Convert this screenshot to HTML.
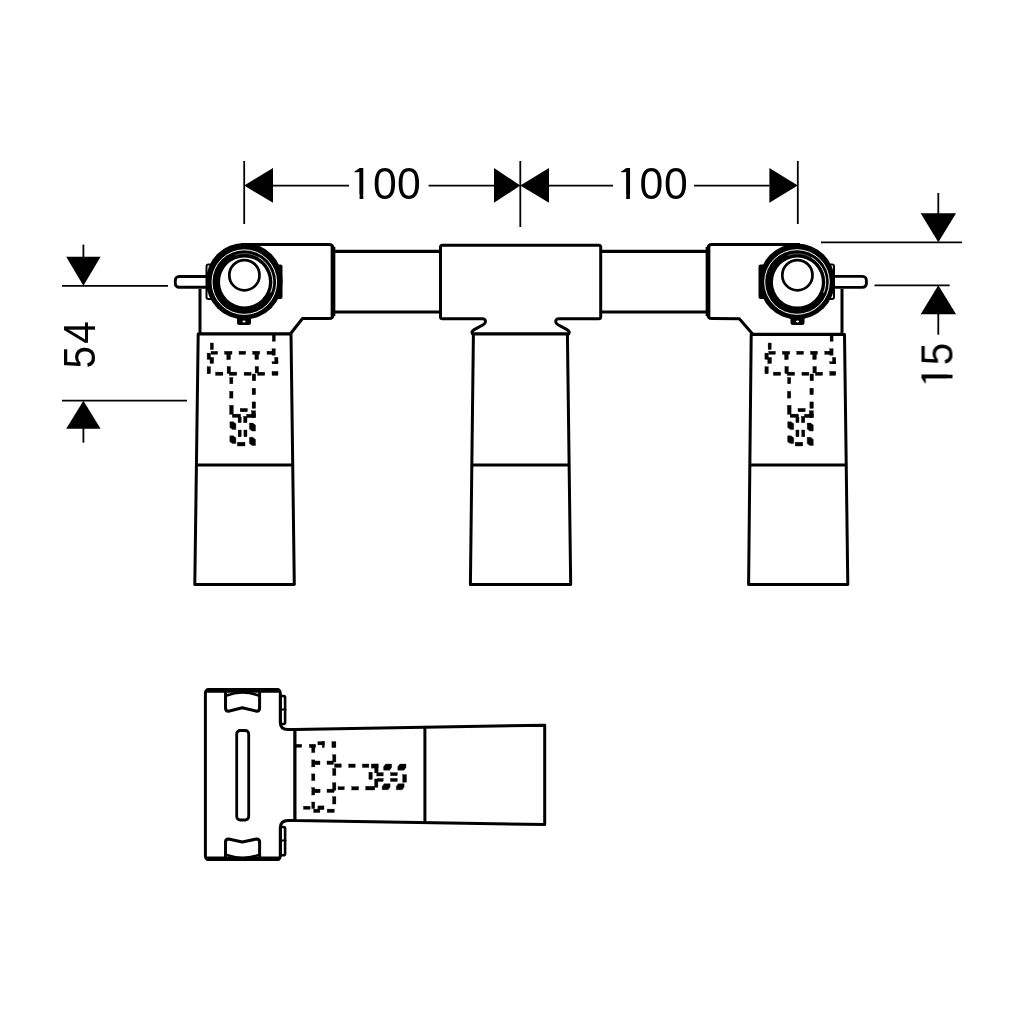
<!DOCTYPE html>
<html><head><meta charset="utf-8">
<style>
html,body{margin:0;padding:0;background:#fff;}
svg{display:block;}
text{font-family:"Liberation Sans",sans-serif;}
</style></head>
<body>
<svg width="1024" height="1024" viewBox="0 0 1024 1024">
<rect width="1024" height="1024" fill="#fff"/>
<defs>
<g id="pat">
<rect x="210.3" y="343.0" width="3.1" height="6.6"/>
<rect x="211.0" y="351.3" width="6.6" height="3.0"/>
<rect x="207.1" y="353.1" width="3.4" height="6.3"/>
<rect x="210.0" y="357.4" width="3.7" height="6.1"/>
<rect x="224.6" y="351.3" width="7.4" height="3.0"/>
<rect x="226.8" y="354.3" width="3.7" height="5.3"/>
<rect x="239.0" y="351.2" width="6.7" height="3.2"/>
<rect x="207.1" y="366.7" width="3.4" height="7.1"/>
<rect x="215.6" y="372.1" width="7.3" height="3.3"/>
<rect x="227.1" y="366.5" width="3.4" height="7.1"/>
<rect x="229.3" y="372.1" width="7.5" height="3.3"/>
<rect x="229.8" y="377.5" width="3.1" height="6.3"/>
<rect x="272.3" y="334.8" width="3.0" height="6.5"/>
<rect x="252.7" y="351.2" width="7.0" height="3.2"/>
<rect x="254.9" y="354.4" width="3.7" height="5.1"/>
<rect x="267.0" y="351.2" width="7.7" height="3.2"/>
<rect x="272.0" y="348.8" width="3.3" height="6.4"/>
<rect x="274.7" y="357.4" width="3.3" height="6.4"/>
<rect x="272.0" y="361.7" width="6.0" height="2.1"/>
<rect x="244.1" y="372.2" width="7.0" height="3.2"/>
<rect x="255.1" y="366.5" width="3.5" height="6.5"/>
<rect x="257.6" y="372.2" width="7.2" height="3.2"/>
<rect x="252.2" y="374.0" width="3.5" height="6.8"/>
<rect x="272.0" y="371.4" width="6.0" height="4.0"/>
<rect x="229.6" y="391.3" width="3.4" height="6.8"/>
<rect x="252.1" y="388.2" width="3.5" height="6.5"/>
<rect x="229.6" y="405.3" width="3.7" height="9"/>
<rect x="232.3" y="414.1" width="8.3" height="3.3"/>
<rect x="238.1" y="417.0" width="3.1" height="5.7"/>
<rect x="240.2" y="408.4" width="7.2" height="3.4"/>
<rect x="252.1" y="401.9" width="3.5" height="6.5"/>
<rect x="251.5" y="410.8" width="4.1" height="6.8"/>
<rect x="246.7" y="414.2" width="8.9" height="3.4"/>
<rect x="243.6" y="416.3" width="3.4" height="6.4"/>
<polygon points="229.9,421.7 233.2,421.7 235.9,423.7 235.9,429.6 232.6,429.6 229.9,427.6"/>
<polygon points="229.8,435.8 233.2,435.8 235.9,437.8 235.9,443.6 232.5,443.6 229.8,441.7"/>
<polygon points="249.4,423.1 252.8,423.1 255.5,425.1 255.5,431.1 252.1,431.1 249.4,429.1"/>
<polygon points="249.4,437.3 252.8,437.3 255.5,439.4 255.5,445.5 252.1,445.5 249.4,443.4"/>
<rect x="238.1" y="430.0" width="3.1" height="6.8"/>
<rect x="243.9" y="430.0" width="3.1" height="6.8"/>
<rect x="237.4" y="442.2" width="7.6" height="3.8"/>
</g>
</defs>
<!-- DIMENSIONS -->
<g stroke="#000" stroke-width="1.8" fill="none">
  <line x1="244.2" y1="161" x2="244.2" y2="224"/>
  <line x1="520.3" y1="161" x2="520.3" y2="227"/>
  <line x1="797.8" y1="161" x2="797.8" y2="224"/>
  <line x1="273" y1="185.6" x2="349" y2="185.6"/>
  <line x1="428.6" y1="185.6" x2="494" y2="185.6"/>
  <line x1="549" y1="185.6" x2="613" y2="185.6"/>
  <line x1="694" y1="185.6" x2="769.4" y2="185.6"/>
  <!-- left dim -->
  <line x1="83.4" y1="244.6" x2="83.4" y2="258"/>
  <line x1="62" y1="285.8" x2="168" y2="285.8"/>
  <line x1="62" y1="400.7" x2="187" y2="400.7"/>
  <line x1="83.4" y1="428" x2="83.4" y2="442.6"/>
  <!-- right dim -->
  <line x1="938.3" y1="193" x2="938.3" y2="214"/>
  <line x1="821" y1="242.3" x2="962" y2="242.3"/>
  <line x1="874.5" y1="285.3" x2="949.7" y2="285.3"/>
  <line x1="938.3" y1="313" x2="938.3" y2="334.7"/>
</g>
<g fill="#000">
  <polygon points="244.2,185.6 273,167.9 273,202.8"/>
  <polygon points="520.3,185.6 494,167.9 494,202.8"/>
  <polygon points="520.3,185.6 549,167.9 549,202.8"/>
  <polygon points="797.8,185.6 769.4,167.9 769.4,202.8"/>
  <polygon points="83.4,285.8 66.2,256.8 100.6,256.8"/>
  <polygon points="83.4,400.7 66.2,428.7 100.6,428.7"/>
  <polygon points="938.3,242.3 920.7,213.3 956.1,213.3"/>
  <polygon points="938.3,285.3 920.7,314.3 956.1,314.3"/>
</g>
<g fill="#000" font-size="45" opacity="0.999">
  <text x="348.1" y="199">1</text>
  <text transform="translate(384.3,199) scale(0.95,1)" x="-12" y="0">0</text>
  <text transform="translate(408.5,199) scale(0.95,1)" x="-12" y="0">0</text>
  <rect x="350.5" y="194.4" width="9.1" height="5.2" fill="#fff"/>
  <rect x="363.3" y="194.4" width="8.9" height="5.2" fill="#fff"/>
  <polygon points="345,163 354.3,163 354.3,172.2 358.7,172.2 358.7,183.4 345,183.4" fill="#fff"/>
  <text x="614.7" y="199">1</text>
  <text transform="translate(650.9,199) scale(0.95,1)" x="-12" y="0">0</text>
  <text transform="translate(675.3,199) scale(0.95,1)" x="-12" y="0">0</text>
  <rect x="617.1" y="194.4" width="9.1" height="5.2" fill="#fff"/>
  <rect x="629.9" y="194.4" width="8.9" height="5.2" fill="#fff"/>
  <polygon points="611.6,163 620.9,163 620.9,172.2 625.3,172.2 625.3,183.4 611.6,183.4" fill="#fff"/>
  <g transform="translate(95,400) rotate(-90)">
    <text transform="translate(42.25,0) scale(0.9,1)" x="-12" y="0">5</text>
    <text transform="translate(67.1,0) scale(0.9,1)" x="-12" y="0">4</text>
  </g>
  <g transform="translate(952.5,400) rotate(-90)">
    <text x="10.2" y="0">1</text>
    <text transform="translate(45.6,0) scale(0.9,1)" x="-12" y="0">5</text>
    <rect x="12.6" y="-4.6" width="9.05" height="5.2" fill="#fff"/>
    <rect x="25.3" y="-4.6" width="9" height="5.2" fill="#fff"/>
    <polygon points="7.2,-36 16.4,-36 16.4,-26.8 20.8,-26.8 20.8,-15 7.2,-15" fill="#fff"/>
  </g>
</g>

<!-- PIPES -->
<g stroke="#000" stroke-width="3.2" fill="none">
  <line x1="334" y1="251.4" x2="441" y2="251.4"/>
  <line x1="334" y1="312" x2="441" y2="312"/>
  <line x1="600" y1="251.4" x2="708" y2="251.4"/>
  <line x1="600" y1="312" x2="708" y2="312"/>
</g>

<!-- LEFT ELBOW BODY -->
<g stroke="#000" stroke-width="3" fill="#fff" stroke-linejoin="round">
  <path d="M241 244.6 L329 244.6 Q333 244.6 333 248.6 L333 314.5 Q333 318.5 329 318.5 L302.5 318.5 L290.3 334 L200 334 L200 289"/>
  <path d="M800 244.6 L712 244.6 Q708 244.6 708 248.6 L708 314.5 Q708 318.5 712 318.5 L739.3 318.8 L752.8 334.2 L842 334.2 L842 289"/>
</g>
<g stroke="#000" stroke-width="4.7" fill="none">
  <line x1="333" y1="247" x2="333" y2="316"/>
  <line x1="708" y1="247" x2="708" y2="316"/>
</g>

<!-- CENTER T -->
<path d="M442.5 245.2 L598.7 245.2 Q600.7 245.2 600.7 247.2 L600.7 316.7 Q600.7 318.7 598.7 318.7 L559 318.7 Q555.5 318.7 555.8 321.8 Q556 323.6 558 324.7 L567 329.6 Q570.5 331.6 568.5 334.1 L472.7 334.1 Q470.7 331.6 474.2 329.6 L483.2 324.7 Q485.2 323.6 485.4 321.8 Q485.7 318.7 482.2 318.7 L442.5 318.7 Q440.5 318.7 440.5 316.7 L440.5 247.2 Q440.5 245.2 442.5 245.2 Z" stroke="#000" stroke-width="3" fill="#fff" stroke-linejoin="round"/>

<!-- CYLINDERS -->
<g stroke="#000" stroke-width="3" fill="#fff" stroke-linejoin="round">
  <polygon points="198.2,334.1 291,334.1 294.3,584.6 194.8,584.6"/>
  <line x1="196" y1="465" x2="292" y2="465"/>
  <polygon points="473.4,334.1 567.4,334.1 570.7,584.6 470.4,584.6"/>
  <line x1="472" y1="464.9" x2="569" y2="464.9"/>
  <polygon points="751.2,334.4 844.5,334.4 847.8,584.6 748.6,584.6"/>
  <line x1="749.5" y1="464.9" x2="846.8" y2="464.9"/>
</g>

<!-- DASHED PATTERNS -->
<use href="#pat" fill="#000" stroke="#000" stroke-width="0.35"/>
<use href="#pat" fill="#000" stroke="#000" stroke-width="0.35" transform="translate(557.8,0)"/>
<!-- RINGS -->
<g id="ringL">
  <rect x="175.3" y="276.5" width="34" height="10.8" rx="3.8" stroke="#000" stroke-width="2.9" fill="#fff"/>
  <rect x="206.5" y="264.5" width="9" height="34.5" rx="2" stroke="#000" stroke-width="2" fill="#fff"/>
  <rect x="274" y="264.5" width="8.5" height="34.5" rx="2" fill="#000"/>
  <path d="M237 316 L251 316 L251 322.5 Q251 325 248.5 325 L239.5 325 Q237 325 237 322.5 Z" fill="#000"/><ellipse cx="244" cy="321.5" rx="1.6" ry="0.9" fill="#fff"/>
  <circle cx="244.3" cy="281.2" r="38.3" fill="#000"/>
  <circle cx="244.3" cy="282.1" r="32.3" fill="none" stroke="#fff" stroke-width="1"/>
  <circle cx="244.5" cy="281.9" r="24.5" fill="#fff"/>
  <circle cx="244.4" cy="275.2" r="15.1" fill="none" stroke="#000" stroke-width="2.7"/>
  <path d="M258.65 257.39 A28.3 28.3 0 0 1 270.74 292.5" fill="none" stroke="#fff" stroke-width="0.9"/>
  <path d="M234.82 255.31 A28.3 28.3 0 0 1 258.65 257.39" fill="none" stroke="#fff" stroke-width="0.7" stroke-opacity="0.45"/>
</g>
<g id="ringR">
  <rect x="832" y="276.4" width="34.4" height="11" rx="3.8" stroke="#000" stroke-width="2.9" fill="#fff"/>
  <rect x="825" y="264.5" width="9" height="34.5" rx="2" stroke="#000" stroke-width="2" fill="#fff"/>
  <rect x="758.5" y="264.5" width="8.5" height="34.5" rx="2" fill="#000"/>
  <path d="M790.5 316 L804.5 316 L804.5 322.5 Q804.5 325 802 325 L793 325 Q790.5 325 790.5 322.5 Z" fill="#000"/><ellipse cx="797.5" cy="321.5" rx="1.6" ry="0.9" fill="#fff"/>
  <circle cx="797" cy="281.4" r="37.9" fill="#000"/>
  <circle cx="797" cy="282" r="32.3" fill="none" stroke="#fff" stroke-width="1"/>
  <circle cx="797.4" cy="282.1" r="24.5" fill="#fff"/>
  <circle cx="797.4" cy="275.2" r="15.1" fill="none" stroke="#000" stroke-width="2.7"/>
  <path d="M811.55 257.59 A28.3 28.3 0 0 1 823.64 292.7" fill="none" stroke="#fff" stroke-width="0.9"/>
  <path d="M787.72 255.51 A28.3 28.3 0 0 1 811.55 257.59" fill="none" stroke="#fff" stroke-width="0.7" stroke-opacity="0.45"/>
</g>

<!-- SIDE VIEW -->
<g stroke="#000" stroke-width="3" fill="#fff" stroke-linejoin="round" stroke-linecap="round">
  <rect x="280.5" y="696" width="4.6" height="28" rx="1.5" stroke-width="2.6"/>
  <line x1="281" y1="709.5" x2="285.5" y2="709.5" stroke-width="2"/>
  <rect x="280.5" y="827" width="4.6" height="28.3" rx="1.5" stroke-width="2.6"/>
  <line x1="281" y1="840.5" x2="285.5" y2="840.5" stroke-width="2"/>
  <path d="M209.5 689.5 L276.3 689.5 Q280.3 689.5 280.3 693.5 L280.3 722.5 Q280.3 729.6 288 729.6 L295 729.6 L295 820.5 L288 820.5 Q280.3 820.5 280.3 828 L280.3 855.5 Q280.3 859.5 276.3 859.5 L209.5 859.5 Q205.4 859.5 205.4 855.5 L205.4 693.5 Q205.4 689.5 209.5 689.5 Z"/>
  <line x1="208" y1="690.5" x2="278" y2="690.5" stroke-width="4.4"/>
  <line x1="208" y1="858.7" x2="278" y2="858.7" stroke-width="4.4"/>
  <rect x="236.7" y="730.5" width="12" height="89.5" rx="3.5" stroke-width="2.8"/>
  <path d="M225.5 693 L225.5 708 Q225.5 711.2 228.5 711.2 L242.3 707.8 L256.6 711.2 Q259.6 711.2 259.6 708 L259.6 693" />
  <path d="M226.5 695.5 Q242.3 689.5 258.6 695.5" fill="none" stroke-width="2.6"/>
  <path d="M225.5 857 L225.5 842 Q225.5 839 228.5 839 L242.3 842 L256.6 839 Q259.6 839 259.6 842 L259.6 857" />
  <path d="M226.5 855 Q242.3 860.5 258.6 855" fill="none" stroke-width="2.6"/>
  <path d="M295 729.5 L544.7 725.2 L544.7 824.6 L295 820.5 Z" fill="#fff"/>
  <line x1="424.9" y1="727.3" x2="424.9" y2="822.4"/>
</g>
<use href="#pat" fill="#000" stroke="#000" stroke-width="0.35" transform="matrix(0,-1,1,0,-39.5,1019.6)"/>
</svg>
</body></html>
